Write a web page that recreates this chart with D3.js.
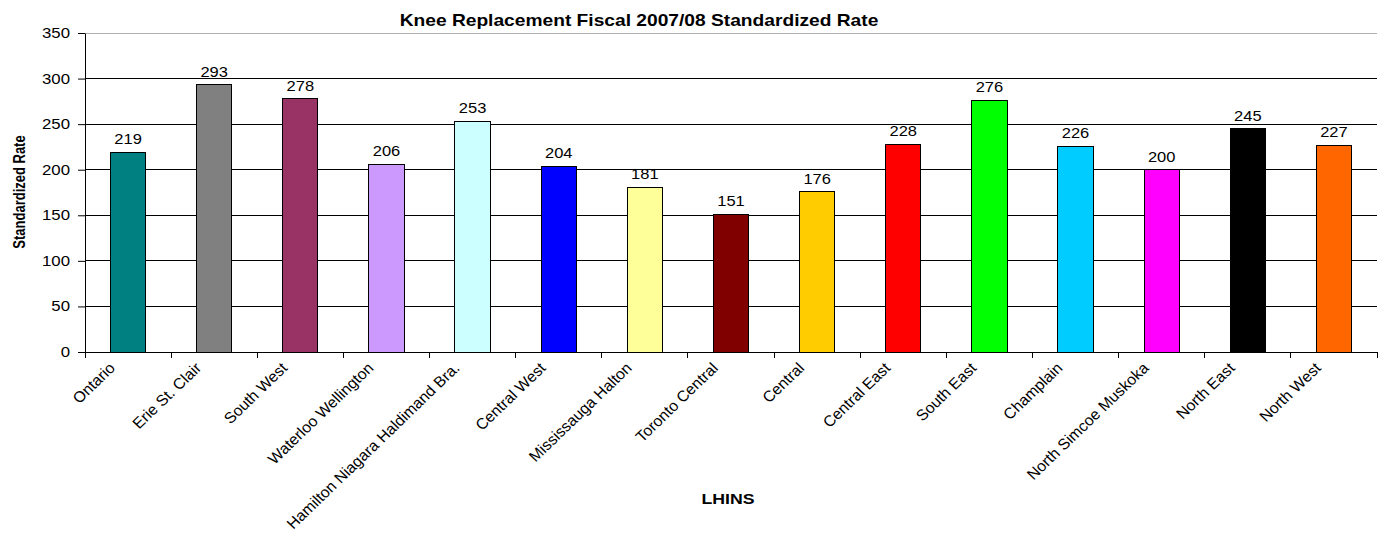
<!DOCTYPE html>
<html>
<head>
<meta charset="utf-8">
<script src="https://cdn.jsdelivr.net/npm/d3@7"></script>
<style>
  body { margin: 0; background: #fff; }
  text { font-family: "Liberation Sans", Arial, sans-serif; }
</style>
</head>
<body>
<svg id="chart" width="1382" height="538"></svg>
<script>
// LHIN regions and their knee replacement standardized rates
const categories = ["Ontario", "Erie St. Clair", "South West", "Waterloo Wellington",
  "Hamilton Niagara Haldimand Brant", "Central West", "Mississauga Halton", "Toronto Central",
  "Central", "Central East", "South East", "Champlain", "North Simcoe Muskoka",
  "North East", "North West"];
const tickLabels = ["Ontario", "Erie St. Clair", "South West", "Waterloo Wellington",
  "Hamilton Niagara Haldimand Bra.", "Central West", "Mississauga Halton", "Toronto Central",
  "Central", "Central East", "South East", "Champlain", "North Simcoe Muskoka",
  "North East", "North West"];
const rates = [219, 293, 278, 206, 253, 204, 181, 151, 176, 228, 276, 226, 200, 245, 227];
const barColors = ["#008080", "#808080", "#993366", "#CC99FF", "#CCFFFF", "#0000FF", "#FFFF99",
  "#800000", "#FFCC00", "#FF0000", "#00FF00", "#00CCFF", "#FF00FF", "#000000", "#FF6600"];
const yTicks = [0, 50, 100, 150, 200, 250, 300, 350];

const svg = d3.select("#chart");
const plotLeft = 85, plotRight = 1377, plotTop = 33, plotBottom = 352;
const stretch = 1.2; // text is drawn slightly wide

const x = d3.scaleBand().domain(categories).range([plotLeft, plotRight]).paddingInner(0.59).paddingOuter(0.295);
const band = d3.scaleBand().domain(categories).range([plotLeft, plotRight]);
const y = d3.scaleLinear().domain([0, 350]).range([plotBottom, plotTop]);

// horizontal gridlines
svg.append("g").selectAll("line").data(yTicks.filter(d => d > 0)).join("line")
  .attr("x1", plotLeft).attr("x2", plotRight)
  .attr("y1", d => y(d)).attr("y2", d => y(d))
  .attr("stroke", d => d === 350 ? "#b0b0b0" : "#000").attr("stroke-width", 1)
  .attr("shape-rendering", "crispEdges");

// bars
svg.append("g").selectAll("rect").data(categories).join("rect")
  .attr("x", d => x(d)).attr("width", x.bandwidth())
  .attr("y", (d, i) => y(rates[i])).attr("height", (d, i) => y(0) - y(rates[i]))
  .attr("fill", (d, i) => barColors[i])
  .attr("stroke", "#000").attr("stroke-width", 1)
  .attr("shape-rendering", "crispEdges");

// value labels
svg.append("g").selectAll("text").data(categories).join("text")
  .attr("transform", (d, i) => `translate(${x(d) + x.bandwidth() / 2},${y(rates[i]) - 8}) scale(1.1,1)`)
  .attr("text-anchor", "middle").attr("font-size", 15).attr("fill", "#000")
  .text((d, i) => rates[i]);

// y axis
const yAxis = svg.append("g").attr("transform", `translate(${plotLeft},0)`)
  .call(d3.axisLeft(y).tickValues(yTicks).tickSize(7).tickSizeOuter(0).tickPadding(15));
yAxis.select(".domain").attr("stroke", "#000");
yAxis.selectAll(".tick line").attr("stroke", "#000");
yAxis.selectAll(".tick text")
  .attr("x", -15 / stretch).attr("transform", `scale(${stretch},1)`)
  .attr("font-size", 14).attr("font-family", "Liberation Sans, Arial, sans-serif").attr("fill", "#000");

// x axis: baseline with ticks at category boundaries
const xg = svg.append("g");
xg.append("line").attr("x1", plotLeft).attr("x2", plotRight).attr("y1", plotBottom).attr("y2", plotBottom)
  .attr("stroke", "#000").attr("shape-rendering", "crispEdges");
const boundaries = categories.map(d => band(d)).concat([plotRight]);
xg.selectAll("line.tk").data(boundaries).join("line").attr("class", "tk")
  .attr("x1", d => d).attr("x2", d => d).attr("y1", plotBottom).attr("y2", plotBottom + 6)
  .attr("stroke", "#000").attr("shape-rendering", "crispEdges");

xg.selectAll("text").data(categories).join("text")
  .attr("transform", d => `translate(${band(d) + band.bandwidth() / 2 - 12},${plotBottom + 17}) scale(1.04,1) rotate(-45)`)
  .attr("text-anchor", "end").attr("font-size", 15.3).attr("fill", "#000")
  .text((d, i) => tickLabels[i]);

// titles
svg.append("text").attr("transform", `translate(639,26) scale(${stretch},1)`).attr("text-anchor", "middle")
  .attr("font-size", 16).attr("font-weight", "bold").text("Knee Replacement Fiscal 2007/08 Standardized Rate");
svg.append("text").attr("transform", "translate(728,504) scale(1.18,1)").attr("text-anchor", "middle")
  .attr("font-size", 15).attr("font-weight", "bold").text("LHINS");
svg.append("text").attr("transform", `translate(25,192) scale(${stretch},1) rotate(-90)`).attr("text-anchor", "middle")
  .attr("font-size", 13).attr("font-weight", "bold").text("Standardized Rate");
</script>
</body>
</html>
